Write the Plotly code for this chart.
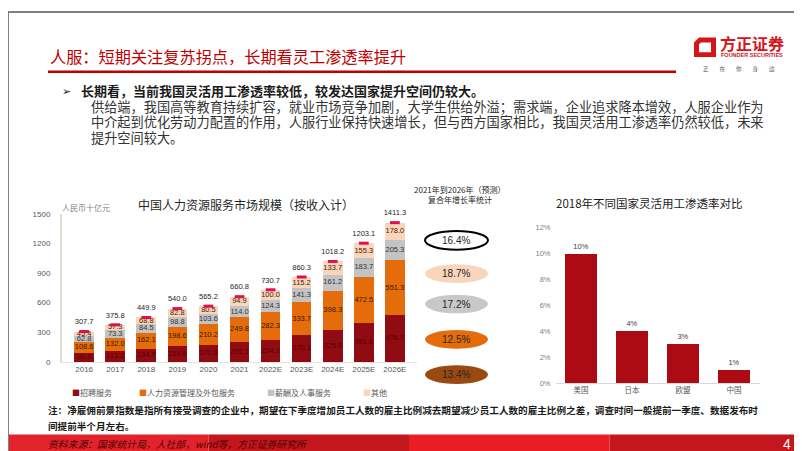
import plotly.graph_objects as go

W, H = 802, 451
def px(x): return x / W
def py(y): return 1 - y / H

FONT = "Noto Sans CJK SC"
NUM = "Liberation Sans"

# ---- left chart data ----
years = ["2016", "2017", "2018", "2019", "2020", "2021", "2022E", "2023E", "2024E", "2025E", "2026E"]
recruit = [90.9, 113.2, 134.5, 159.8, 170.9, 202.1, 224.1, 270.1, 325.0, 391.6, 476.7]
hr_outsource = [108.6, 132.0, 162.1, 198.6, 210.2, 249.8, 282.3, 333.7, 398.3, 472.5, 551.3]
payroll = [62.8, 73.3, 84.5, 98.8, 103.6, 114.0, 124.3, 141.3, 161.2, 183.7, 205.3]
other = [45.4, 57.3, 68.8, 82.8, 80.5, 94.9, 100.0, 115.2, 133.7, 155.3, 178.0]
totals = [307.7, 375.8, 449.9, 540.0, 565.2, 660.8, 730.7, 860.3, 1018.2, 1203.1, 1411.3]
series_names = ["招聘服务", "人力资源管理及外包服务", "薪酬及人事服务", "其他"]
y_ticks_left = [0, 300, 600, 900, 1200, 1500]

# ---- CAGR ----
cagr_labels = ["16.4%", "18.7%", "17.2%", "12.5%", "13.4%"]

# ---- right chart data ----
countries = ["美国", "日本", "欧盟", "中国"]
flex_rate = [0.10, 0.04, 0.03, 0.01]
y_ticks_right = [0, 0.02, 0.04, 0.06, 0.08, 0.10, 0.12]

c_recruit = "#900C12"
c_hr = "#E46C0A"
c_pay = "#C3C3C3"
c_other = "#F9D5BC"
series = [recruit, hr_outsource, payroll, other]
colors = [c_recruit, c_hr, c_pay, c_other]
label_colors = ["#5A0005", "#3A1A00", "#333333", "#4A2200"]

fig = go.Figure()

base = [0.0] * len(years)
for name, vals, col, lc in zip(series_names, series, colors, label_colors):
    fig.add_trace(go.Bar(x=years, y=vals, name=name, marker=dict(color=col, line=dict(width=0)),
                         xaxis="x", yaxis="y", showlegend=False))
    mids = [b + v / 2 for b, v in zip(base, vals)]
    fig.add_trace(go.Scatter(x=years, y=mids, mode="text", text=[f"{v:.1f}" for v in vals],
                             textfont=dict(size=7.5, color=lc, family=NUM),
                             xaxis="x", yaxis="y", showlegend=False, cliponaxis=False, hoverinfo="skip"))
    base = [b + v for b, v in zip(base, vals)]

fig.add_trace(go.Scatter(x=years, y=totals, mode="markers+text", text=[f"{t:.1f}" for t in totals],
                         textposition="top center",
                         textfont=dict(size=7.5, color="#262626", family=NUM),
                         marker=dict(symbol="line-ew", size=7, line=dict(width=3, color="#E0104A")),
                         xaxis="x", yaxis="y", showlegend=False, cliponaxis=False))

fig.add_trace(go.Bar(x=countries, y=flex_rate, marker=dict(color="#AC0B14", line=dict(width=0)),
                     text=[f"{v:.0%}" for v in flex_rate], textposition="outside",
                     textfont=dict(size=7.5, color="#404040", family=NUM),
                     xaxis="x2", yaxis="y2", showlegend=False, cliponaxis=False))

fig.update_layout(
    width=W, height=H, margin=dict(l=0, r=0, t=0, b=0),
    paper_bgcolor="white", plot_bgcolor="rgba(0,0,0,0)",
    barmode="stack", bargap=0.37,
    font=dict(family=FONT),
    xaxis=dict(domain=[px(54), px(409)], anchor="y", type="category",
               tickfont=dict(size=8, color="#595959", family=NUM),
               showline=True, linecolor="#E8E2DA", linewidth=1, showgrid=False, ticks=""),
    yaxis=dict(domain=[py(357), py(206)], anchor="x", range=[0, 1500], tickvals=y_ticks_left,
               tickfont=dict(size=8, color="#595959", family=NUM), showgrid=False, zeroline=False,
               showline=True, linecolor="#E2DCD2", linewidth=2, ticks="", ticklabelstandoff=8),
    xaxis2=dict(domain=[px(547.5), px(751.5)], anchor="y2", type="category",
                tickfont=dict(size=7.5, color="#595959", family=FONT),
                showline=True, linecolor="#D9D9D9", linewidth=1, showgrid=False, ticks=""),
    yaxis2=dict(domain=[py(379), py(220)], anchor="x2", range=[0, 0.12], tickvals=y_ticks_right,
                tickformat=".0%", tickfont=dict(size=7.5, color="#7F7F7F", family=NUM),
                showgrid=False, zeroline=False, showline=False, ticks="", ticklabelstandoff=4),
)

shapes = []
ann = []

def text(x, y, s, size, color="#262626", xanchor="left", bold=False, family=FONT, italic=False):
    if bold:
        s = f"<b>{s}</b>"
    if italic:
        s = f"<i>{s}</i>"
    ann.append(dict(x=px(x), y=py(y), xref="paper", yref="paper", text=s, showarrow=False,
                    xanchor=xanchor, yanchor="middle", font=dict(size=size, color=color, family=family)))

# slide border
shapes.append(dict(type="rect", xref="paper", yref="paper", x0=0, y0=0, x1=1, y1=1,
                   line=dict(color="#808080", width=2), fillcolor="rgba(0,0,0,0)"))
# title
text(40, 45, "人服：短期关注复苏拐点，长期看灵工渗透率提升", 16.2, "#C00000")
shapes.append(dict(type="line", xref="paper", yref="paper", x0=px(40), x1=px(668), y0=py(61), y1=py(61),
                   line=dict(color="#C00000", width=2.5)))
# logo
shapes.append(dict(type="path", xref="paper", yref="paper",
                   path=f"M {px(691)},{py(26)} L {px(708)},{py(26)} L {px(708)},{py(46)} L {px(686)},{py(46)} L {px(686)},{py(31)} Z "
                        f"M {px(693)},{py(31)} L {px(703)},{py(31)} L {px(703)},{py(41)} L {px(691)},{py(41)} L {px(691)},{py(33)} Z",
                   fillcolor="#D7141A", line=dict(width=0)))
text(744, 31.5, "方正证券", 16, "#D7141A", "center", bold=True)
text(744, 43.5, "FOUNDER SECURITIES", 5.5, "#D7141A", "center", bold=True, family=NUM)
text(731, 58.5, "正　　在　　你　　身　　边", 5.5, "#595959", "center")

# bullet text
text(52, 80, "➢", 11, "#1a1a1a")
text(71, 80, "长期看，当前我国灵活用工渗透率较低，较发达国家提升空间仍较大。", 13, "#1a1a1a", bold=True)
text(81, 96, "供给端，我国高等教育持续扩容，就业市场竞争加剧，大学生供给外溢；需求端，企业追求降本增效，人服企业作为", 13.2, "#333333")
text(81, 112, "中介起到优化劳动力配置的作用，人服行业保持快速增长，但与西方国家相比，我国灵活用工渗透率仍然较低，未来", 13.2, "#333333")
text(81, 128, "提升空间较大。", 13.2, "#333333")

# left chart title & unit
text(238, 196, "中国人力资源服务市场规模（按收入计）", 12, "#262626", "center")
text(52, 199, "人民币十亿元", 8, "#7F7F7F")

# legend
leg_x = [62, 129, 257, 353]
for lx, name, col in zip(leg_x, series_names, colors):
    text(lx, 388, f"<span style='color:{col}'>■</span>{name}", 8, "#595959")

# CAGR header & ellipses
text(452, 181, "2021年到2026年（预测）", 8, "#262626", "center")
text(452, 191, "复合年增长率统计", 8, "#262626", "center")
ell_y = [233, 267, 298, 334, 370]
ell_fill = ["white", c_other, "#C8C8C8", c_hr, "#9A4A10"]
for yy, lab, fc in zip(ell_y, cagr_labels, ell_fill):
    first = fc == "white"
    shapes.append(dict(type="circle", xref="paper", yref="paper",
                       x0=px(417), x1=px(480), y0=py(yy - 9.5), y1=py(yy + 9.5),
                       fillcolor=fc, line=dict(color="black" if first else fc, width=2 if first else 0)))
    text(448.5, yy, lab, 10, "#262626", "center", family=NUM)

# right chart title
text(641, 195, "2018年不同国家灵活用工渗透率对比", 11.5, "#1a1a1a", "center")

# note
text(38, 406, "注：净雇佣前景指数是指所有接受调查的企业中，期望在下季度增加员工人数的雇主比例减去期望减少员工人数的雇主比例之差，调查时间一般提前一季度、数据发布时", 9.6, "#1a1a1a", bold=True)
text(38, 422, "间提前半个月左右。", 9.6, "#1a1a1a", bold=True)

# footer
seg_cols = ["#E2232B", "#C4161D", "#EC1C24", "#C4161D"]
for i, c in enumerate(seg_cols):
    shapes.append(dict(type="rect", xref="paper", yref="paper", x0=px(i * 200.5), x1=px((i + 1) * 200.5),
                       y0=py(451), y1=py(431), fillcolor=c, line=dict(width=0), layer="below"))
text(38, 441, "资料来源：国家统计局，人社部，wind等，方正证券研究所", 9.8, "#4A0000", italic=True)
text(779, 441, "4", 14, "white", "center", family=NUM)

fig.update_layout(shapes=shapes, annotations=ann)
fig.write_html("out.html")
